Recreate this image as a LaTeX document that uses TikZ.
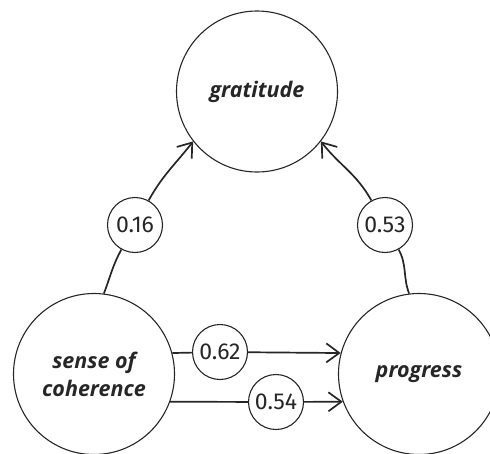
\documentclass[tikz,border=0pt]{standalone}
\usepackage{fontspec}
\setmainfont{Fira Sans}
\newfontfamily\wordfont{Open Sans}
\newfontfamily\numfont{Fira Sans}
\usetikzlibrary{arrows.meta}

\tikzset{
  factor/.style={circle, draw=black!85, line width=1.1pt, minimum size=161pt,
    inner sep=0pt, align=center, text=black!85,
    font=\wordfont\bfseries\itshape\fontsize{21.5}{28}\selectfont},
  coef/.style={circle, draw=black!85, line width=1.1pt, fill=white,
    minimum size=55pt, inner sep=0pt, text=black!85,
    font=\numfont\fontsize{23}{24}\selectfont},
  path/.style={draw=black!85, line width=1.7pt},
  arrowed/.style={path, -{Straight Barb[length=13pt,width=19pt,line width=1.7pt]}}
}

\begin{document}
\begin{tikzpicture}[x=1pt,y=-1pt]
  \useasboundingbox (0,0) rectangle (490,453);
  \clip (0,0) rectangle (490,453);

  % the three factors
  \node[factor] (grat) at (257,91.5) {gratitude};
  \node[factor] (coh)  at (94,374)   {sense of\\coherence};
  \node[factor] (prog) at (419,374)  {progress};

  % path coefficients
  \node[coef] (c16) at (135,225) {0.16};
  \node[coef] (c53) at (385,225) {0.53};
  \node[coef] (c62) at (220,352) {0.62};
  \node[coef] (c54) at (276,402) {0.54};

  % curved paths into gratitude
  \draw[path] (coh.83) to[out=69,in=241] (c16);
  \draw[arrowed] (c16) to[out=61,in=232] (grat.218);
  \draw[path] (prog.97) to[out=111,in=-61] (c53);
  \draw[arrowed] (c53) to[out=119,in=-52] (grat.322);

  % straight paths into progress
  \draw[path] (coh.15) -- (c62);
  \draw[arrowed] (c62) -- (prog.165);
  \draw[path] (coh.-20.5) -- (c54);
  \draw[arrowed] (c54) -- (prog.200.5);
\end{tikzpicture}
\end{document}
